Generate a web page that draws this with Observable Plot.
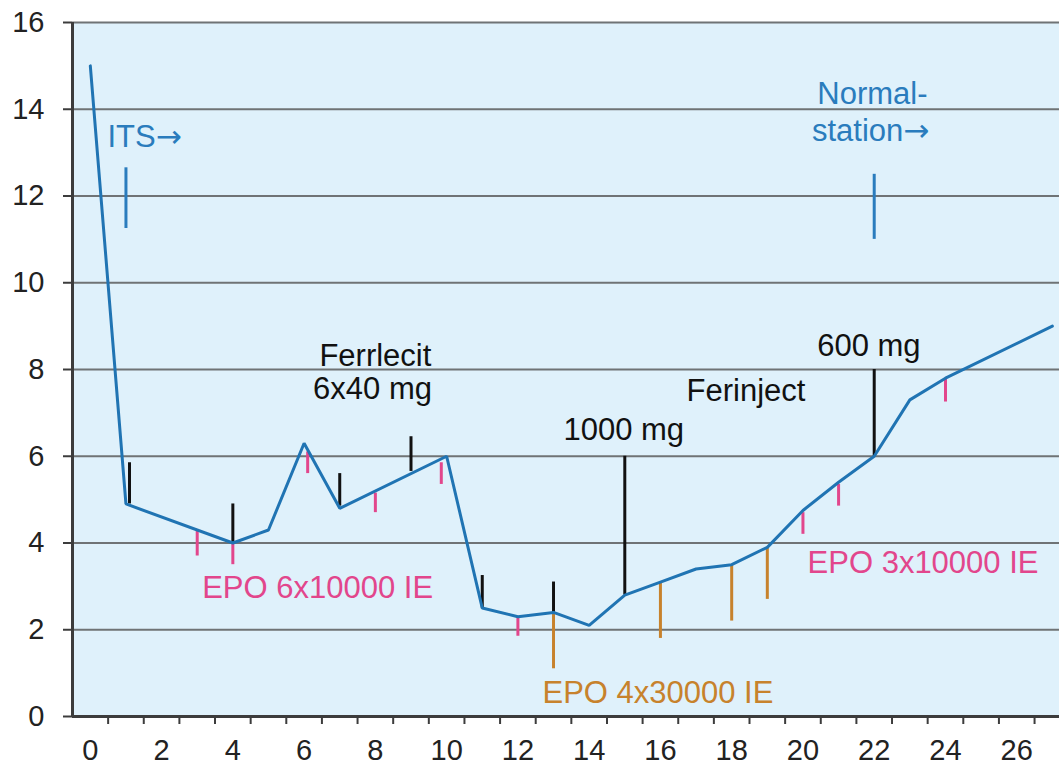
<!DOCTYPE html>
<html><head><meta charset="utf-8">
<script src="https://cdn.jsdelivr.net/npm/d3@7"></script>
<script src="https://cdn.jsdelivr.net/npm/@observablehq/plot@0.6"></script>
<style>body{margin:0;background:#fff;} svg{display:block;}</style>
</head><body><div id="chart"></div>
<script>
// Hb course (blue line)
const weeks = [0, 1, 4, 5, 6, 7, 10, 11, 12, 13, 14, 15, 16, 17, 18, 19, 20, 21, 22, 23, 24, 27];
const hb    = [15.0, 4.9, 4.0, 4.3, 6.3, 4.8, 6.0, 2.5, 2.3, 2.4, 2.1, 2.8, 3.1, 3.4, 3.5, 3.9, 4.75, 5.4, 6.0, 7.3, 7.8, 9.0];

// Ferrlecit 6x40 mg (black, above line)
const ferrX  = [1.1, 4, 7, 9, 11, 13];
const ferrY1 = [4.9, 4.0, 4.85, 5.65, 2.5, 2.4];
const ferrY2 = [5.85, 4.9, 5.6, 6.45, 3.25, 3.1];

// Ferinject 1000 mg / 600 mg (black)
const ferinjX  = [15, 22];
const ferinjY1 = [2.8, 6.0];
const ferinjY2 = [6.0, 8.0];

// EPO 6x10000 IE (pink)
const epoAX  = [3, 4, 6.1, 8, 9.85, 12];
const epoAY1 = [4.3, 4.0, 6.1, 5.15, 5.85, 2.3];
const epoAY2 = [3.7, 3.5, 5.6, 4.7, 5.35, 1.85];

// EPO 4x30000 IE (orange)
const epoBX  = [13, 16, 18, 19];
const epoBY1 = [2.4, 3.1, 3.5, 3.9];
const epoBY2 = [1.1, 1.8, 2.2, 2.7];

// EPO 3x10000 IE (pink)
const epoCX  = [20, 21, 24];
const epoCY1 = [4.7, 5.35, 7.8];
const epoCY2 = [4.2, 4.85, 7.25];

// Stay markers (ITS, Normalstation)
const stayX  = [1, 22];
const stayY1 = [11.25, 11.0];
const stayY2 = [12.65, 12.5];

// Labels
const labelText  = ["Ferrlecit", "6x40 mg", "1000 mg", "Ferinject", "600 mg", "EPO 6x10000 IE", "EPO 4x30000 IE", "EPO 3x10000 IE", "Normal-", "station\u2192"];
const labelX     = [8.0, 7.92, 14.97, 18.4, 21.85, 6.38, 15.93, 23.37, 21.95, 21.9];
const labelY     = [8.32, 7.56, 6.6, 7.5, 8.53, 2.95, 0.53, 3.53, 14.35, 13.5];
const labelColor = ["black", "black", "black", "black", "black", "pink", "orange", "pink", "blue", "blue"];
const itsText = ["ITS\u2192"];
const itsX = [0.48];
const itsY = [13.35];

// Axis ticks
const yTicks = [0, 2, 4, 6, 8, 10, 12, 14, 16];
const gridVals = [2, 4, 6, 8, 10, 12, 14, 16];
const xLabelTicks = [0, 2, 4, 6, 8, 10, 12, 14, 16, 18, 20, 22, 24, 26];
const xMarkTicks = d3.range(0.5, 27, 1);

const colors = {black: "#111111", pink: "#e2468c", orange: "#c7822c", blue: "#2a7cbd"};
const lineBlue = "#2074b3";

const line = weeks.map((w, i) => ({x: w, y: hb[i]}));
const seg = (xs, y1s, y2s) => xs.map((x, i) => ({x, y1: y1s[i], y2: y2s[i]}));
const labels = labelText.map((t, i) => ({t, x: labelX[i], y: labelY[i], c: colors[labelColor[i]]}));
const its = itsText.map((t, i) => ({t, x: itsX[i], y: itsY[i]}));

const font = "'Liberation Sans', Arial, sans-serif";

const chart = Plot.plot({
  width: 1059,
  height: 771,
  marginLeft: 72,
  marginRight: 0,
  marginTop: 22,
  marginBottom: 55,
  style: {fontFamily: font, fontSize: "29px", color: "#222", background: "#fff"},
  x: {domain: [-0.5, 27.2]},
  y: {domain: [0, 16]},
  marks: [
    Plot.frame({fill: "#dff1fb", stroke: "none"}),
    Plot.ruleY(gridVals, {stroke: "#6f7375", strokeWidth: 2}),
    Plot.ruleY([0], {stroke: "#3c3c3c", strokeWidth: 3}),
    Plot.ruleX([-0.5], {stroke: "#3c3c3c", strokeWidth: 3}),
    Plot.axisY({ticks: yTicks, tickSize: 9, tickPadding: 19, stroke: "#3c3c3c", strokeWidth: 2, fill: "#222", fontSize: 29, label: null}),
    Plot.axisX({ticks: xMarkTicks, tickSize: 8, tickFormat: () => "", stroke: "#3c3c3c", strokeWidth: 2, label: null}),
    Plot.axisX({ticks: xLabelTicks, tickSize: 0, tickPadding: 23, fill: "#222", fontSize: 29, label: null}),
    Plot.ruleX(seg(stayX, stayY1, stayY2), {x: "x", y1: "y1", y2: "y2", stroke: colors.blue, strokeWidth: 3}),
    Plot.ruleX(seg(ferrX, ferrY1, ferrY2), {x: "x", y1: "y1", y2: "y2", stroke: colors.black, strokeWidth: 3}),
    Plot.ruleX(seg(ferinjX, ferinjY1, ferinjY2), {x: "x", y1: "y1", y2: "y2", stroke: colors.black, strokeWidth: 3}),
    Plot.ruleX(seg(epoAX, epoAY1, epoAY2), {x: "x", y1: "y1", y2: "y2", stroke: colors.pink, strokeWidth: 3}),
    Plot.ruleX(seg(epoBX, epoBY1, epoBY2), {x: "x", y1: "y1", y2: "y2", stroke: colors.orange, strokeWidth: 3}),
    Plot.ruleX(seg(epoCX, epoCY1, epoCY2), {x: "x", y1: "y1", y2: "y2", stroke: colors.pink, strokeWidth: 3}),
    Plot.line(line, {x: "x", y: "y", stroke: lineBlue, strokeWidth: 3, strokeLinejoin: "miter"}),
    Plot.text(labels, {x: "x", y: "y", text: "t", fill: "c", fontSize: 31, textAnchor: "middle"}),
    Plot.text(its, {x: "x", y: "y", text: "t", fill: colors.blue, fontSize: 31, textAnchor: "start"})
  ]
});
document.getElementById("chart").appendChild(chart);

// render the arrow glyph in a font with a larger arrow, as in the original
d3.select(chart).selectAll("text").each(function() {
  const el = d3.select(this);
  const s = el.text();
  if (s.includes("\u2192")) {
    const parts = s.split("\u2192");
    el.text(null);
    el.append("tspan").text(parts[0]);
    el.append("tspan").attr("font-family", "'DejaVu Sans'").text("\u2192");
  }
});
</script>
</body></html>
